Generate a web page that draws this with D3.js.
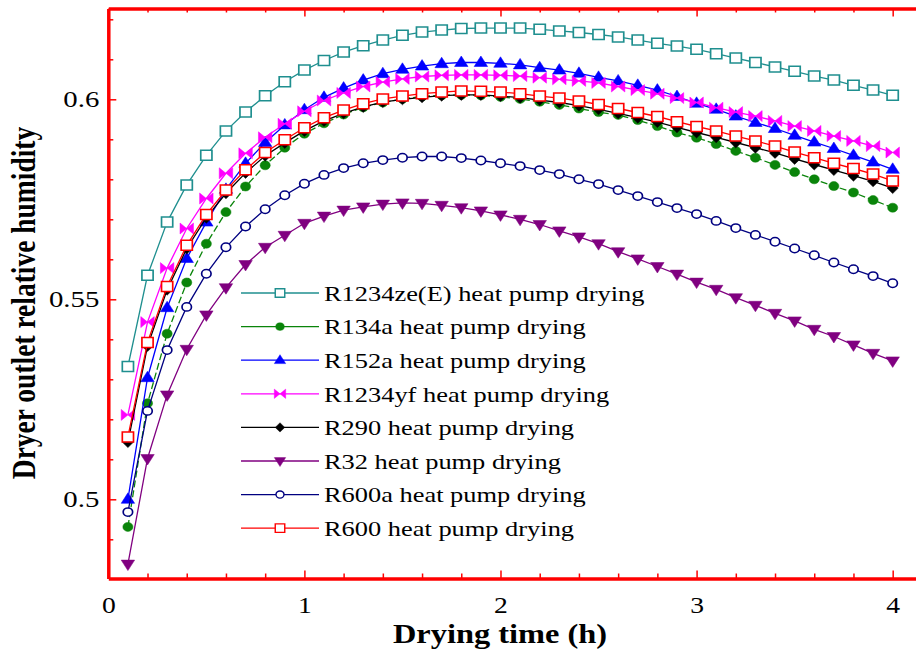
<!DOCTYPE html>
<html><head><meta charset="utf-8">
<script src="https://cdn.jsdelivr.net/npm/d3@7"></script>
<style>body{margin:0;background:#fff} svg{display:block;background:#fff}</style>
</head><body>
<svg id="chart" width="916" height="652"></svg>
<script>
// ---------------- data ----------------
const hours = [0.1,0.2,0.3,0.4,0.5,0.6,0.7,0.8,0.9,1.0,1.1,1.2,1.3,1.4,1.5,1.6,1.7,1.8,1.9,2.0,
               2.1,2.2,2.3,2.4,2.5,2.6,2.7,2.8,2.9,3.0,3.1,3.2,3.3,3.4,3.5,3.6,3.7,3.8,3.9,4.0];

const r1234zeE = [0.5332,0.5560,0.5693,0.5786,0.5860,0.5921,0.5968,0.6009,0.6044,0.6073,
                  0.6097,0.6118,0.6134,0.6148,0.6160,0.6168,0.6173,0.6177,0.6178,0.6178,
                  0.6178,0.6175,0.6171,0.6167,0.6162,0.6156,0.6148,0.6140,0.6133,0.6125,
                  0.6114,0.6103,0.6092,0.6081,0.6070,0.6058,0.6048,0.6035,0.6023,0.6010];
const r134a    = [0.4931,0.5240,0.5414,0.5542,0.5639,0.5718,0.5782,0.5835,0.5879,0.5914,
                  0.5940,0.5962,0.5980,0.5992,0.6001,0.6007,0.6010,0.6011,0.6010,0.6006,
                  0.6001,0.5994,0.5986,0.5977,0.5968,0.5961,0.5948,0.5933,0.5917,0.5904,
                  0.5888,0.5871,0.5854,0.5836,0.5818,0.5800,0.5783,0.5767,0.5748,0.5729];
const r152a    = [0.5000,0.5304,0.5479,0.5602,0.5693,0.5775,0.5840,0.5892,0.5936,0.5974,
                  0.6005,0.6028,0.6048,0.6064,0.6075,0.6083,0.6089,0.6092,0.6092,0.6090,
                  0.6086,0.6079,0.6073,0.6065,0.6055,0.6046,0.6035,0.6023,0.6007,0.5990,
                  0.5975,0.5958,0.5942,0.5927,0.5910,0.5893,0.5877,0.5860,0.5843,0.5825];
const r1234yf  = [0.5211,0.5443,0.5578,0.5677,0.5752,0.5815,0.5865,0.5905,0.5939,0.5970,
                  0.5997,0.6016,0.6032,0.6043,0.6051,0.6057,0.6060,0.6061,0.6061,0.6060,
                  0.6058,0.6054,0.6050,0.6046,0.6041,0.6032,0.6023,0.6014,0.6003,0.5992,
                  0.5979,0.5968,0.5958,0.5946,0.5933,0.5921,0.5908,0.5896,0.5883,0.5867];
const r290     = [0.5143,0.5383,0.5524,0.5627,0.5704,0.5765,0.5816,0.5859,0.5891,0.5921,
                  0.5946,0.5965,0.5981,0.5993,0.6000,0.6005,0.6009,0.6011,0.6011,0.6008,
                  0.6004,0.5998,0.5992,0.5984,0.5975,0.5965,0.5954,0.5943,0.5930,0.5917,
                  0.5905,0.5892,0.5879,0.5866,0.5851,0.5837,0.5823,0.5809,0.5795,0.5778];
const r32      = [0.4838,0.5102,0.5261,0.5375,0.5461,0.5529,0.5587,0.5630,0.5660,0.5690,
                  0.5708,0.5723,0.5731,0.5738,0.5741,0.5740,0.5735,0.5729,0.5721,0.5711,
                  0.5700,0.5687,0.5671,0.5656,0.5639,0.5619,0.5601,0.5582,0.5563,0.5543,
                  0.5525,0.5504,0.5485,0.5465,0.5446,0.5425,0.5407,0.5386,0.5365,0.5346];
const r600a    = [0.4968,0.5221,0.5373,0.5481,0.5564,0.5630,0.5682,0.5725,0.5760,0.5789,
                  0.5811,0.5828,0.5840,0.5848,0.5854,0.5857,0.5857,0.5853,0.5847,0.5840,
                  0.5833,0.5823,0.5813,0.5800,0.5788,0.5773,0.5758,0.5743,0.5728,0.5713,
                  0.5696,0.5678,0.5661,0.5644,0.5627,0.5610,0.5592,0.5575,0.5558,0.5540];
const r600     = [0.5156,0.5392,0.5532,0.5635,0.5712,0.5773,0.5824,0.5867,0.5899,0.5929,
                  0.5954,0.5973,0.5989,0.6001,0.6008,0.6014,0.6018,0.6021,0.6020,0.6018,
                  0.6014,0.6008,0.6003,0.5996,0.5987,0.5977,0.5967,0.5957,0.5944,0.5932,
                  0.5921,0.5908,0.5896,0.5883,0.5868,0.5854,0.5840,0.5827,0.5813,0.5796];

const seriesNames = ["R1234ze(E) heat pump drying","R134a heat pump drying","R152a heat pump drying",
                     "R1234yf heat pump drying","R290 heat pump drying","R32 heat pump drying",
                     "R600a heat pump drying","R600 heat pump drying"];
const seriesValues = [r1234zeE, r134a, r152a, r1234yf, r290, r32, r600a, r600];

const xMajorTicks = [0,1,2,3,4];
const xTickLabels = ["0","1","2","3","4"];
const xMinorTicks = [0.2,0.4,0.6,0.8,1.2,1.4,1.6,1.8,2.2,2.4,2.6,2.8,3.2,3.4,3.6,3.8,4.2];
const yMajorTicks = [0.5,0.55,0.6];
const yTickLabels = ["0.5","0.55","0.6"];
const yMinorTicks = [0.49,0.51,0.52,0.53,0.54,0.56,0.57,0.58,0.59,0.61,0.62];
const xTitle = "Drying time (h)";
const yTitle = "Dryer outlet relative humidity";

// ---------------- styles ----------------
const styles = [
  {color:"#1f8f8f", marker:"square",  fill:"#fff", dash:null},
  {color:"#0a840a", marker:"circle",  fill:"#0a840a", dash:"7,3"},
  {color:"#0000ff", marker:"triUp",   fill:"#0000ff", dash:null},
  {color:"#ff00ff", marker:"bowtie",  fill:"#ff00ff", dash:null},
  {color:"#000000", marker:"diamond", fill:"#000000", dash:null},
  {color:"#800080", marker:"triDown", fill:"#800080", dash:null},
  {color:"#000080", marker:"circleO", fill:"#fff", dash:null},
  {color:"#ff0000", marker:"square",  fill:"#fff", dash:null}
];
const markerPaths = {
  square:  "M-5,-5H5V5H-5Z",
  circle:  d3.symbol(d3.symbolCircle, 64)(),
  circleO: d3.symbol(d3.symbolCircle, 56)(),
  triUp:   "M0,-6.5L6,4L-6,4Z",
  triDown: "M0,6.5L6,-4L-6,-4Z",
  bowtie:  "M-6,-5.5L0,0L-6,5.5Z M6,-5.5L0,0L6,5.5Z",
  diamond: "M0,-5.5L5,0L0,5.5L-5,0Z"
};
const FONT = "'Liberation Serif','Times New Roman',serif";
const RED = "#ff0000";

const svg = d3.select("#chart");
const x = d3.scaleLinear().domain([0, 4.2]).range([108.3, 931.9]);
const y = d3.scaleLinear().domain([0.4802, 0.6227]).range([578.5, 8.5]);

function stretch(sel, k) {
  sel.each(function () {
    const L = this.getComputedTextLength();
    this.setAttribute("textLength", L * k);
    this.setAttribute("lengthAdjust", "spacingAndGlyphs");
  });
}

// ---------------- series ----------------
const line = d3.line().x((d, i) => x(hours[i])).y(d => y(d));
const plot = svg.append("g");
seriesValues.forEach((vals, s) => {
  const st = styles[s];
  const g = plot.append("g");
  g.append("path").attr("d", line(vals)).attr("fill", "none")
    .attr("stroke", st.color).attr("stroke-width", 1.3)
    .attr("stroke-dasharray", st.dash);
  g.selectAll("path.m").data(vals).join("path").attr("class", "m")
    .attr("d", markerPaths[st.marker])
    .attr("transform", (d, i) => `translate(${x(hours[i])},${y(d)}) scale(1.12,1)`)
    .attr("fill", st.fill).attr("stroke", st.color)
    .attr("stroke-width", st.fill === "#fff" ? 1.5 : 0.5);
});

// ---------------- axes ----------------
function styleAxis(g, labels) {
  g.select(".domain").attr("stroke", RED).attr("stroke-width", 3.5);
  g.selectAll(".tick line").attr("stroke", RED).attr("stroke-width", 1.5);
  g.selectAll(".tick text").attr("font-family", FONT).attr("font-size", 23).attr("fill", "#000");
}
const gb = svg.append("g").attr("transform", `translate(0,${y.range()[0]})`);
gb.call(d3.axisBottom(x).tickValues(xMinorTicks).tickSizeInner(-5).tickSizeOuter(0).tickFormat(""));
styleAxis(gb);
const gb2 = svg.append("g").attr("transform", `translate(0,${y.range()[0]})`);
gb2.call(d3.axisBottom(x).tickValues(xMajorTicks).tickSizeInner(-8).tickSizeOuter(0)
  .tickPadding(18).tickFormat((d, i) => xTickLabels[i]));
styleAxis(gb2);
gb2.select(".domain").remove();
stretch(gb2.selectAll(".tick text"), 1.2);

const gt = svg.append("g").attr("transform", `translate(0,${y.range()[1]})`);
gt.call(d3.axisTop(x).tickValues(xMinorTicks).tickSizeInner(-4).tickSizeOuter(0).tickFormat(""));
styleAxis(gt);
const gt2 = svg.append("g").attr("transform", `translate(0,${y.range()[1]})`);
gt2.call(d3.axisTop(x).tickValues(xMajorTicks).tickSizeInner(-8).tickSizeOuter(0).tickFormat(""));
styleAxis(gt2);
gt2.select(".domain").remove();

const gl = svg.append("g").attr("transform", `translate(${x.range()[0]},0)`);
gl.call(d3.axisLeft(y).tickValues(yMinorTicks).tickSizeInner(-5).tickSizeOuter(0).tickFormat(""));
styleAxis(gl);
const gl2 = svg.append("g").attr("transform", `translate(${x.range()[0]},0)`);
gl2.call(d3.axisLeft(y).tickValues(yMajorTicks).tickSizeInner(-8).tickSizeOuter(0)
  .tickPadding(9).tickFormat((d, i) => yTickLabels[i]));
styleAxis(gl2);
gl2.select(".domain").remove();
gl2.selectAll(".tick text").attr("font-size", 24);
stretch(gl2.selectAll(".tick text"), 1.2);

// ---------------- titles ----------------
const xt = svg.append("text").attr("x", 500).attr("y", 643).attr("text-anchor", "middle")
  .attr("font-family", FONT).attr("font-weight", "bold").attr("font-size", 27).text(xTitle);
stretch(xt, 1.2);
svg.append("text").attr("text-anchor", "middle")
  .attr("transform", "translate(35,303) rotate(-90) scale(1,1.2)")
  .attr("font-family", FONT).attr("font-weight", "bold").attr("font-size", 27.5).text(yTitle);

// ---------------- legend ----------------
const leg = svg.append("g");
seriesNames.forEach((name, s) => {
  const st = styles[s];
  const ly = 293 + s * 33.6;
  const row = leg.append("g").attr("transform", `translate(0,${ly})`);
  row.append("line").attr("x1", 241).attr("x2", 319).attr("stroke", st.color).attr("stroke-width", 1.3);
  row.append("path").attr("d", markerPaths[st.marker])
    .attr("transform", "translate(280,0) scale(0.95,0.85)")
    .attr("fill", st.fill).attr("stroke", st.color)
    .attr("stroke-width", st.fill === "#fff" ? 1.5 : 0.5);
  const t = row.append("text").attr("x", 324).attr("dy", "0.35em")
    .attr("font-family", FONT).attr("font-size", 22).attr("fill", "#000").text(name);
  stretch(t, 1.2);
});
</script>
</body></html>
